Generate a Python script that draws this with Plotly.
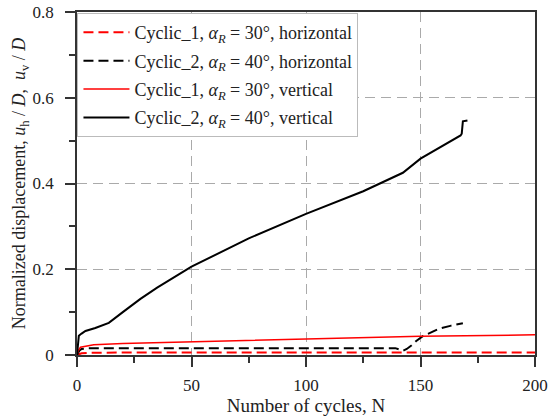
import plotly.graph_objects as go

# Cyclic_1 horizontal (red dashed)
c1h_n = [0, 1, 2, 5, 20, 60, 120, 200]
c1h_u = [0, 0.002, 0.004, 0.005, 0.006, 0.006, 0.006, 0.006]

# Cyclic_2 horizontal (black dashed)
c2h_n = [0, 0.5, 1, 2, 5, 50, 100, 130, 136, 139, 142.4, 144, 146, 148, 151, 158, 163, 168.5]
c2h_u = [0, 0.006, 0.010, 0.014, 0.016, 0.016, 0.016, 0.016, 0.017, 0.016, 0.010, 0.014, 0.022, 0.032, 0.044, 0.061, 0.068, 0.074]

# Cyclic_1 vertical (red solid)
c1v_n = [0, 0.5, 1.5, 4, 7.3, 20, 50, 100, 150, 200]
c1v_u = [0, 0.010, 0.018, 0.021, 0.024, 0.027, 0.031, 0.039, 0.044, 0.047]

# Cyclic_2 vertical (black solid)
c2v_n = [0, 0.3, 0.8, 2, 3.7, 8, 13.9, 20, 27.7, 35, 50, 75, 100, 125, 142.3, 150, 160, 167.5, 168, 168.5, 170.5]
c2v_u = [0, 0.020, 0.045, 0.050, 0.056, 0.063, 0.075, 0.100, 0.131, 0.157, 0.206, 0.272, 0.329, 0.382, 0.425, 0.458, 0.488, 0.512, 0.516, 0.545, 0.547]

x_ticks = [0, 50, 100, 150, 200]
x_minor = [25, 75, 125, 175]
y_ticks = [0, 0.2, 0.4, 0.6, 0.8]
y_ticktext = ["0", "0.2", "0.4", "0.6", "0.8"]
y_minor = [0.1, 0.3, 0.5, 0.7]

names = [
    "Cyclic_1, <i>α</i><sub><i>R</i></sub> = 30°, horizontal",
    "Cyclic_2, <i>α</i><sub><i>R</i></sub> = 40°, horizontal",
    "Cyclic_1, <i>α</i><sub><i>R</i></sub> = 30°, vertical",
    "Cyclic_2, <i>α</i><sub><i>R</i></sub> = 40°, vertical",
]

fig = go.Figure()
fig.add_trace(go.Scatter(x=c1h_n, y=c1h_u, mode="lines", name=names[0], legendgroup="a",
                         line=dict(color="#ff0000", width=2, dash="10px,5px")))
fig.add_trace(go.Scatter(x=c2h_n, y=c2h_u, mode="lines", name=names[1], legendgroup="b",
                         line=dict(color="#000000", width=2, dash="10px,5px")))
fig.add_trace(go.Scatter(x=c1v_n, y=c1v_u, mode="lines", name=names[2], legendgroup="c",
                         line=dict(color="#ff0000", width=1.5)))
fig.add_trace(go.Scatter(x=c2v_n, y=c2v_u, mode="lines", name=names[3], legendgroup="d",
                         line=dict(color="#000000", width=2)))

font = "Liberation Serif, Times New Roman, serif"
tick_font = dict(family=font, size=17, color="#222222")
axis_common = dict(
    showline=True, linecolor="#333333", linewidth=1.5, mirror=True,
    ticks="outside", ticklen=10, tickwidth=1.5, tickcolor="#333333",
    showgrid=True, gridcolor="#aaaaaa", gridwidth=1, griddash="10px,6px",
    zeroline=False, automargin=False,
    tickfont=tick_font,
)

fig.update_layout(
    width=550, height=416,
    margin=dict(l=77, r=15, t=12, b=61),
    paper_bgcolor="white", plot_bgcolor="white",
    font=dict(family=font, size=17, color="#222222"),
    showlegend=True,
    legend=dict(x=0.001, y=0.997, xanchor="left", yanchor="top",
                bgcolor="white", bordercolor="#bbbbbb", borderwidth=1,
                font=dict(family=font, size=18, color="#222222"),
                itemwidth=46, tracegroupgap=2),
    xaxis=dict(range=[0, 200], tickvals=x_ticks, ticklabelstandoff=4,
               minor=dict(tickvals=x_minor, ticks="outside", ticklen=6,
                          tickwidth=1.5, tickcolor="#333333", showgrid=False),
               title=dict(text="Number of cycles, N", standoff=4,
                          font=dict(family=font, size=19)),
               **axis_common),
    yaxis=dict(range=[0, 0.8], tickvals=y_ticks, ticktext=y_ticktext,
               ticklabelstandoff=8,
               minor=dict(tickvals=y_minor, ticks="outside", ticklen=6,
                          tickwidth=1.5, tickcolor="#333333", showgrid=False),
               title=dict(text="\u00a0\u00a0\u00a0Normalized displacement, <i>u</i><sub>h</sub> / <i>D</i>,  <i>u</i><sub>v</sub> / <i>D</i>",
                          standoff=2, font=dict(family=font, size=18)),
               **axis_common),
)

fig.write_html("out.html")
